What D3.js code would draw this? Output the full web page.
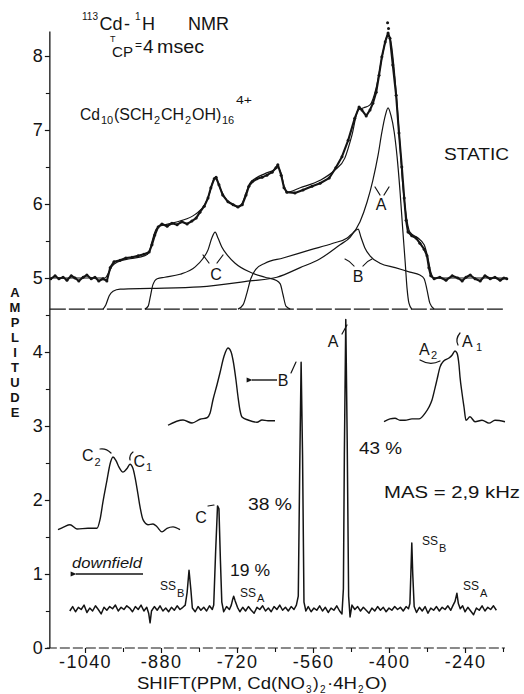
<!DOCTYPE html>
<html>
<head>
<meta charset="utf-8">
<script src="https://cdn.jsdelivr.net/npm/d3@7"></script>
<style>
  html, body { margin: 0; padding: 0; background: #fff; }
  svg { display: block; }
  text { font-family: "Liberation Sans", "DejaVu Sans", sans-serif; fill: #141414; }
</style>
</head>
<body>
<svg id="chart" width="524" height="694"></svg>
<script>
// ---------- axis ticks ----------
const xTickValues  = [-1040, -880, -720, -560, -400, -240];
const xMinorValues = [-960, -800, -640, -480, -320, -160];
const yTickValues  = [0, 1, 2, 3, 4, 5, 6, 7, 8];
const yMinorValues = [0.5, 1.5, 2.5, 3.5, 4.5, 5.5, 6.5, 7.5];
const axisLetters  = ["A", "M", "P", "L", "I", "T", "U", "D", "E"];

// ---------- static spectrum (ppm, amplitude) ----------
const staticObserved = [
  [-1112,4.99],[-1103,5.03],[-1095,4.99],[-1086,5.01],[-1078,4.97],[-1069,5.03],[-1061,5.00],
  [-1053,4.96],[-1044,5.01],[-1036,5.04],[-1027,4.99],[-1019,5.01],[-1011,4.96],[-1002,4.99],
  [-994,4.96],[-987,5.14],[-979,5.22],[-966,5.24],[-954,5.27],[-941,5.28],[-928,5.30],[-916,5.32],
  [-905,5.35],[-899,5.45],[-893,5.58],[-886,5.69],[-878,5.73],[-867,5.70],[-857,5.74],[-846,5.72],
  [-836,5.76],[-825,5.73],[-815,5.77],[-806,5.81],[-798,5.89],[-789,5.97],[-781,6.08],[-775,6.22],
  [-768,6.34],[-764,6.36],[-758,6.26],[-750,6.12],[-739,6.03],[-728,5.99],[-718,5.96],[-709,5.99],
  [-701,6.12],[-695,6.24],[-688,6.30],[-678,6.34],[-667,6.36],[-657,6.39],[-646,6.43],[-638,6.49],
  [-634,6.53],[-627,6.39],[-621,6.22],[-615,6.16],[-598,6.15],[-581,6.19],[-562,6.24],[-545,6.28],
  [-526,6.35],[-512,6.49],[-499,6.64],[-486,6.86],[-472,7.16],[-463,7.31],[-457,7.27],[-448,7.19],
  [-440,7.27],[-434,7.36],[-427,7.51],[-421,7.74],[-415,7.99],[-408,8.19],[-402,8.31],[-398,8.24],
  [-392,7.88],[-385,7.47],[-379,6.96],[-373,6.50],[-368,6.08],[-364,5.78],[-360,5.62],[-352,5.57],
  [-343,5.54],[-335,5.47],[-326,5.39],[-320,5.30],[-316,5.14],[-312,5.03],[-305,4.99],[-293,5.01],
  [-280,4.97],[-267,5.03],[-255,5.00],[-246,4.96],[-238,5.01],[-229,5.04],[-219,4.99],[-208,4.96],
  [-198,5.03],[-187,4.99],[-177,5.01],[-166,4.97],[-158,5.00],[-152,4.99]
];
const staticStrayDots = [[-403,8.45],[-401,8.37]];

const staticFit = [
  [-1112,5.00],[-998,5.00],[-992,5.05],[-983,5.16],[-970,5.22],[-945,5.26],[-914,5.30],[-905,5.35],
  [-899,5.49],[-893,5.62],[-886,5.69],[-872,5.72],[-840,5.77],[-808,5.86],[-787,6.00],[-777,6.16],
  [-771,6.30],[-766,6.36],[-762,6.32],[-754,6.19],[-741,6.05],[-728,5.99],[-718,5.96],[-709,6.01],
  [-701,6.15],[-693,6.28],[-680,6.35],[-661,6.41],[-642,6.46],[-634,6.49],[-627,6.41],[-621,6.24],
  [-615,6.16],[-587,6.22],[-545,6.32],[-514,6.46],[-493,6.62],[-478,6.93],[-465,7.27],[-453,7.30],
  [-440,7.34],[-427,7.57],[-415,7.97],[-406,8.24],[-402,8.28],[-396,8.19],[-389,7.81],[-383,7.34],
  [-377,6.80],[-371,6.26],[-364,5.85],[-356,5.62],[-339,5.54],[-326,5.45],[-318,5.27],[-312,5.08],
  [-305,5.00],[-152,5.00]
];

// simulated component powder patterns, drawn on a common zero line
const componentZero = 4.58;
const componentA = [
  [-1002,4.58],[-996,4.64],[-989,4.76],[-981,4.82],[-966,4.85],[-903,4.86],[-798,4.88],[-693,4.96],
  [-636,5.01],[-587,5.14],[-545,5.26],[-503,5.45],[-482,5.55],[-461,5.76],[-446,6.03],[-434,6.32],
  [-423,6.66],[-415,6.97],[-408,7.19],[-402,7.30],[-396,7.20],[-389,6.97],[-383,6.64],[-377,6.19],
  [-371,5.65],[-366,5.22],[-362,4.86],[-358,4.66],[-352,4.58]
];
const componentB = [
  [-718,4.58],[-707,4.64],[-699,4.80],[-691,4.99],[-680,5.12],[-661,5.20],[-623,5.27],[-566,5.38],
  [-518,5.47],[-488,5.54],[-476,5.61],[-465,5.66],[-459,5.55],[-451,5.41],[-440,5.30],[-419,5.20],
  [-387,5.14],[-356,5.08],[-335,5.04],[-326,4.99],[-320,4.84],[-314,4.66],[-305,4.58]
];
const componentC = [
  [-914,4.58],[-907,4.62],[-903,4.73],[-897,4.91],[-888,4.99],[-872,5.01],[-840,5.05],[-808,5.15],
  [-792,5.26],[-781,5.38],[-773,5.54],[-766,5.62],[-760,5.54],[-752,5.42],[-739,5.30],[-724,5.20],
  [-693,5.08],[-661,5.01],[-638,4.97],[-629,4.92],[-623,4.77],[-617,4.62],[-608,4.58]
];

// ---------- MAS spectrum (ppm, amplitude) ----------
const masSpectrum = [
  [-1072,0.50],[-1066,0.56],[-1060,0.49],[-1054,0.55],[-1048,0.52],[-1042,0.58],[-1036,0.48],[-1030,0.54],
  [-1024,0.50],[-1018,0.57],[-1012,0.52],[-1006,0.46],[-1000,0.55],[-994,0.51],[-988,0.56],[-982,0.53],
  [-976,0.58],[-970,0.50],[-964,0.55],[-958,0.52],[-952,0.57],[-946,0.54],[-940,0.49],[-934,0.56],
  [-928,0.52],[-922,0.58],[-916,0.50],[-910,0.55],[-906,0.47],[-903,0.34],[-900,0.50],[-894,0.56],
  [-888,0.51],[-882,0.57],[-876,0.50],[-870,0.54],[-864,0.49],[-858,0.55],[-852,0.51],[-846,0.57],
  [-840,0.52],[-834,0.55],[-829,0.58],[-825,0.75],[-821,1.05],[-817,0.78],[-814,0.54],[-808,0.49],
  [-802,0.56],[-796,0.51],[-790,0.55],[-784,0.50],[-778,0.57],[-772,0.52],[-769,0.58],[-765,1.30],
  [-761,1.92],[-758,1.88],[-755,1.20],[-752,0.62],[-748,0.49],[-742,0.56],[-736,0.52],[-732,0.58],
  [-729,0.66],[-727,0.70],[-724,0.64],[-719,0.55],[-714,0.49],[-708,0.55],[-702,0.50],[-696,0.56],
  [-690,0.51],[-684,0.47],[-678,0.55],[-672,0.52],[-666,0.57],[-660,0.50],[-654,0.54],[-648,0.49],
  [-642,0.56],[-636,0.52],[-630,0.58],[-624,0.51],[-618,0.55],[-612,0.50],[-606,0.56],[-600,0.52],
  [-595,0.58],[-591,0.70],[-588,2.40],[-585,3.86],[-582,2.60],[-579,0.62],[-575,0.50],[-570,0.56],
  [-564,0.49],[-558,0.54],[-552,0.51],[-546,0.57],[-540,0.50],[-534,0.55],[-528,0.48],[-522,0.54],
  [-516,0.51],[-510,0.57],[-504,0.50],[-499,0.46],[-496,0.80],[-494,2.60],[-491,4.44],[-488,2.80],
  [-485,0.70],[-482,0.42],[-478,0.58],[-472,0.52],[-466,0.56],[-460,0.50],[-454,0.55],[-448,0.51],
  [-442,0.47],[-436,0.54],[-430,0.50],[-424,0.56],[-418,0.51],[-412,0.55],[-406,0.49],[-400,0.54],
  [-394,0.51],[-388,0.56],[-382,0.52],[-376,0.55],[-370,0.50],[-364,0.56],[-359,0.53],[-356,0.60],
  [-354,1.00],[-352,1.42],[-350,1.00],[-347,0.56],[-342,0.48],[-336,0.55],[-330,0.50],[-324,0.56],
  [-318,0.47],[-312,0.54],[-306,0.51],[-300,0.56],[-294,0.50],[-288,0.55],[-282,0.52],[-276,0.57],
  [-270,0.51],[-265,0.58],[-261,0.63],[-257,0.74],[-254,0.60],[-250,0.53],[-245,0.57],[-240,0.49],
  [-234,0.55],[-228,0.50],[-222,0.45],[-216,0.54],[-210,0.51],[-204,0.57],[-198,0.50],[-192,0.55],
  [-186,0.52],[-180,0.57],[-174,0.51]
];

// expanded views of the three MAS lines (relative offset, normalised intensity)
const expandedC = [
  [0,-0.01],[6,0.03],[12,0.06],[19,0.0],[30,0.01],[39,0.01],[42,0.13],[45,0.38],[49,0.68],[52,0.90],
  [55,1.00],[58,0.95],[61,0.86],[65,0.79],[69,0.84],[72,0.90],[75,0.84],[77,0.72],[80,0.48],[82,0.31],
  [85,0.13],[90,0.06],[95,0.07],[99,0.03],[104,-0.04],[109,0.01],[115,0.03],[122,-0.01]
];
const expandedB = [
  [0,-0.03],[15,0.04],[24,0.0],[32,0.05],[39,0.07],[42,0.13],[45,0.31],[49,0.51],[52,0.67],[56,0.89],
  [60,1.00],[63,0.95],[65,0.84],[68,0.57],[70,0.35],[72,0.17],[74,0.08],[80,0.04],[89,0.01],[94,0.04],
  [100,0.03],[107,0.03]
];
const expandedA = [
  [0,-0.01],[6,0.03],[11,0.04],[16,0.01],[21,0.01],[28,0.03],[35,0.03],[41,0.11],[45,0.20],[48,0.30],
  [51,0.47],[53,0.59],[56,0.77],[60,0.86],[65,0.90],[68,0.94],[71,1.00],[73,0.97],[75,0.80],[76,0.63],
  [78,0.40],[80,0.20],[82,0.01],[86,0.06],[91,-0.01],[98,0.01],[105,-0.03],[111,0.01],[121,-0.01]
];

// ---------- drawing ----------
const INK = "#141414";
const svg = d3.select("#chart");
svg.append("rect").attr("width", 524).attr("height", 694).attr("fill", "#fff");

const x = d3.scaleLinear().domain([-1040, -240]).range([85, 465]);
const y = d3.scaleLinear().domain([0, 8]).range([648, 56]);
const xStart = -1114, xEnd = -156, yEnd = 8.33;

const defs = svg.append("defs");
defs.append("marker").attr("id", "head")
  .attr("viewBox", "0 0 10 10").attr("refX", 1).attr("refY", 5)
  .attr("markerWidth", 9).attr("markerHeight", 6).attr("orient", "auto-start-reverse")
  .attr("markerUnits", "userSpaceOnUse")
  .append("path").attr("d", "M10,1 L0,5 L10,9 Z").attr("fill", INK);

const line = d3.line().x(d => x(d[0])).y(d => y(d[1]));
const smooth = d3.line().x(d => x(d[0])).y(d => y(d[1])).curve(d3.curveMonotoneX);

function text(s, px, py, size, o = {}) {
  const t = svg.append("text").attr("x", px).attr("y", py).attr("font-size", size).text(s);
  if (o.len) t.attr("textLength", o.len).attr("lengthAdjust", "spacingAndGlyphs");
  if (o.anchor) t.attr("text-anchor", o.anchor);
  if (o.italic) t.attr("font-style", "italic");
  return t;
}
function stroke(d, w = 1.2) {
  return svg.append("path").attr("d", d).attr("fill", "none").attr("stroke", INK)
    .attr("stroke-width", w).attr("stroke-linecap", "round");
}

// axes
const yAxis = svg.append("g").attr("transform", `translate(${x(xStart)},0)`)
  .call(d3.axisLeft(y).tickValues(yTickValues).tickSize(5).tickPadding(2).tickFormat(d3.format("d")));
yAxis.select(".domain").remove();
yAxis.selectAll("text").attr("font-size", 18).attr("fill", INK)
  .attr("font-family", "'Liberation Sans', sans-serif");
yAxis.selectAll("line").attr("stroke", INK).attr("stroke-width", 1.2);
const yMinor = svg.append("g").attr("transform", `translate(${x(xStart)},0)`)
  .call(d3.axisLeft(y).tickValues(yMinorValues).tickSize(4).tickFormat(""));
yMinor.select(".domain").remove();
yMinor.selectAll("line").attr("stroke", INK).attr("stroke-width", 1.1);
svg.append("line").attr("x1", x(xStart)).attr("x2", x(xStart)).attr("y1", y(0)).attr("y2", y(yEnd))
  .attr("stroke", INK).attr("stroke-width", 1.3);

const xAxis = svg.append("g").attr("transform", `translate(0,${y(0)})`)
  .call(d3.axisBottom(x).tickValues(xTickValues).tickSize(5).tickPadding(2).tickFormat(d => String(d)));
xAxis.select(".domain").remove();
xAxis.selectAll("text").attr("font-size", 18).attr("fill", INK).attr("letter-spacing", 1.4)
  .attr("font-family", "'Liberation Sans', sans-serif");
xAxis.selectAll("line").attr("stroke", INK).attr("stroke-width", 1.2);
const xMinor = svg.append("g").attr("transform", `translate(0,${y(0)})`)
  .call(d3.axisBottom(x).tickValues(xMinorValues).tickSize(4).tickFormat(""));
xMinor.select(".domain").remove();
xMinor.selectAll("line").attr("stroke", INK).attr("stroke-width", 1.1);
svg.append("line").attr("x1", x(xStart) - 3).attr("x2", x(xEnd)).attr("y1", y(0)).attr("y2", y(0))
  .attr("stroke", INK).attr("stroke-width", 1.2).attr("stroke-dasharray", "10,3");

// axis titles: amplitude title as stacked upright letters, evenly spaced
svg.append("g").selectAll("text").data(axisLetters).join("text")
  .attr("x", 15).attr("y", (d, i) => 297 + i * 15)
  .attr("font-size", 13).attr("font-weight", "bold").attr("text-anchor", "middle")
  .text(d => d);

text("SHIFT(PPM, Cd(NO", 137, 689, 17, { len: 168 });
text("3", 306, 693, 10);
text(")", 313, 689, 17);
text("2", 320, 693, 10);
text("·4H", 327, 689, 17, { len: 30 });
text("2", 358, 693, 10);
text("O)", 365, 689, 17, { len: 22 });

// ---- static panel ----
svg.append("line").attr("x1", x(xStart)).attr("x2", x(xEnd))
  .attr("y1", y(componentZero)).attr("y2", y(componentZero))
  .attr("stroke", INK).attr("stroke-width", 1.1).attr("stroke-dasharray", "16,3");
[componentA, componentB, componentC].forEach(c => {
  svg.append("path").datum(c).attr("d", smooth).attr("fill", "none")
    .attr("stroke", INK).attr("stroke-width", 1.2);
});
svg.append("path").datum(staticFit).attr("d", smooth).attr("fill", "none")
  .attr("stroke", INK).attr("stroke-width", 1.2);
svg.append("path").datum(staticObserved).attr("d", line).attr("fill", "none")
  .attr("stroke", INK).attr("stroke-width", 2.1).attr("stroke-linejoin", "round");
svg.append("g").selectAll("circle").data(staticObserved.concat(staticStrayDots)).join("circle")
  .attr("cx", d => x(d[0])).attr("cy", d => y(d[1])).attr("r", 1.5).attr("fill", INK);

// component labels with their pointer strokes
text("A", 381, 210, 16, { anchor: "middle" });
stroke("M375,187 L380,195"); stroke("M389,187 L384,195");
text("B", 358, 282, 16, { anchor: "middle" });
stroke("M345,259 Q350,261 354,266"); stroke("M372,259 Q367,261 363,266");
text("C", 216, 280, 16, { anchor: "middle" });
stroke("M203,255 L209,263"); stroke("M223,255 L217,263");

// title block
text("113", 82, 19.5, 10);
text("Cd", 99.5, 29.5, 18);
text("-", 124, 29.5, 18);
text("1", 135, 19.5, 10);
text("H", 142, 29.5, 18);
text("NMR", 188, 29.5, 18);
text("T", 110, 42, 9);
text("CP", 112, 57, 14, { len: 21 });
text("=", 135, 49, 12);
text("4", 143, 53, 19);
text("msec", 157, 53, 19, { len: 47 });
text("Cd", 80, 120, 16, { len: 20 });
text("10", 101, 124, 11);
text("(SCH", 114, 120, 16, { len: 39 });
text("2", 154, 124, 11);
text("CH", 161, 120, 16);
text("2", 185, 124, 11);
text("OH)", 192, 120, 16);
text("16", 222, 124, 11);
text("4+", 236, 104, 11, { len: 16 });
text("STATIC", 444, 160, 17, { len: 65 });

// ---- MAS panel ----
svg.append("path").datum(masSpectrum).attr("d", line).attr("fill", "none")
  .attr("stroke", INK).attr("stroke-width", 1.5).attr("stroke-linejoin", "round");

function expanded(trace, left, base, top) {
  const ux = d3.scaleLinear().domain([0, 1]).range([left, left + 1]);
  const vy = d3.scaleLinear().domain([0, 1]).range([base, top]);
  svg.append("path").datum(trace)
    .attr("d", d3.line().x(d => ux(d[0])).y(d => vy(d[1])).curve(d3.curveMonotoneX))
    .attr("fill", "none").attr("stroke", INK).attr("stroke-width", 1.4);
}
expanded(expandedC, 58, 529, 457);
expanded(expandedB, 168, 423, 348);
expanded(expandedA, 384, 421, 351);

// labels on the expanded traces
text("C", 82, 461, 16); text("2", 94.5, 466, 11);
stroke("M100,449 Q106,448 111,453");
stroke("M130,460 Q129,455 133,452");
text("C", 133.5, 467, 16); text("1", 146, 471, 11);
text("A", 419, 355, 16); text("2", 431, 359, 11);
stroke("M420,360 Q430,366 440,361");
stroke("M458,345 Q455,339 460,333");
text("A", 462, 347, 16); text("1", 476, 351, 11);

// peak labels
text("A", 333, 347, 16, { anchor: "middle" });
stroke("M342,334 L347,325");
text("B", 283, 386, 16, { anchor: "middle" });
stroke("M291,373 L296,362");
svg.append("line").attr("x1", 277).attr("x2", 252).attr("y1", 380).attr("y2", 380)
  .attr("stroke", INK).attr("stroke-width", 1.4).attr("marker-end", "url(#head)");
text("C", 201, 523, 16, { anchor: "middle" });
stroke("M208,506 L214,505");

text("43 %", 359, 454, 16, { len: 43 });
text("38 %", 248, 510, 16, { len: 44 });
text("19 %", 230, 576, 16, { len: 40 });
text("MAS =  2,9 kHz", 384, 498, 16, { len: 136 });

text("downfield", 72, 568, 14, { italic: true, len: 70 });
svg.append("line").attr("x1", 143).attr("x2", 76).attr("y1", 574).attr("y2", 574)
  .attr("stroke", INK).attr("stroke-width", 1.4).attr("marker-end", "url(#head)");

text("SS", 160, 590, 12); text("B", 177, 597, 11);
text("SS", 240, 597, 12); text("A", 257, 602, 11);
text("SS", 422, 545, 12); text("B", 439, 552, 11);
text("SS", 463, 590, 12); text("A", 480, 597, 11);
</script>
</body>
</html>
